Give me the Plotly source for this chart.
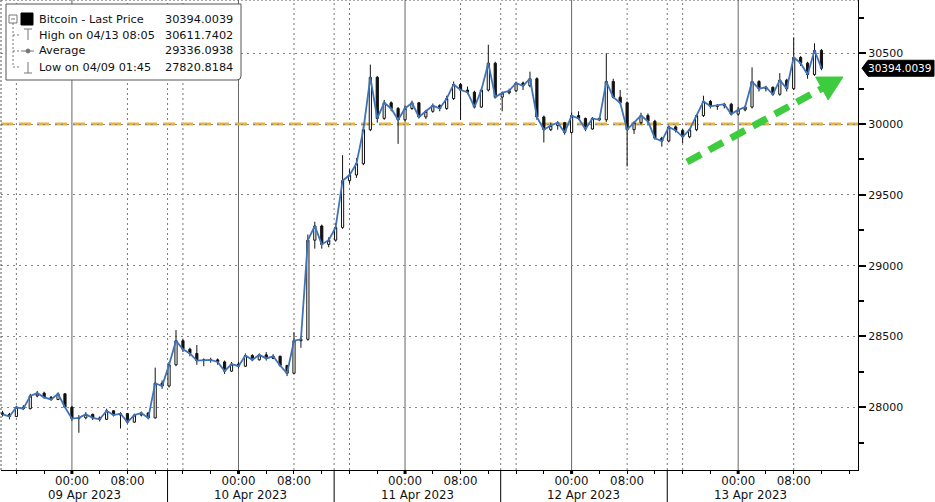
import math
import plotly.graph_objects as go
import pandas as pd

# ---------------- data (hourly candles) ----------------
open_ = [
    27960, 27950, 27935, 28000, 27990, 28080, 28100, 28070, 28055, 28095,
    28000, 27920, 27925, 27950, 27925, 27915, 27975, 27945, 27955, 27895, 27945, 27960,
    27925, 28170, 28150, 28300, 28470, 28410, 28380, 28330, 28335, 28335, 28320, 28255,
    28305, 28290, 28365, 28335, 28370, 28345, 28360, 28295, 28240, 28470, 28480, 29180,
    29280, 29150, 29180, 29270, 29600, 29640, 29720, 29960, 30330, 30040, 30150, 30110,
    30030, 30110, 30150, 30050, 30090, 30130, 30110, 30180, 30280, 30240, 30225, 30120,
    30240, 30430, 30190, 30220, 30235, 30290, 30270, 30320, 30050, 29960, 29990, 30010,
    29940, 30060, 30040, 29965, 30040, 30030, 30300, 30190, 30150, 29960, 30010, 30060,
    30020, 29900, 29880, 29980, 29955, 29910, 29960, 30060, 30160, 30125, 30130, 30140,
    30070, 30100, 30120, 30300, 30250, 30260, 30210, 30310, 30250, 30470, 30430, 30350, 30520,
]
high = [
    27975, 27960, 28010, 28015, 28095, 28115, 28110, 28080, 28105, 28100,
    28010, 27945, 27965, 27955, 27935, 27990, 27980, 27965, 27960, 27955, 27970, 27965,
    28280, 28190, 28320, 28545, 28480, 28420, 28440, 28345, 28350, 28345, 28330, 28320,
    28320, 28380, 28375, 28380, 28390, 28375, 28365, 28300, 28530, 28500, 29220, 29310,
    29290, 29200, 29300, 29780, 29680, 29760, 30000, 30420, 30340, 30170, 30160, 30120,
    30130, 30165, 30155, 30100, 30145, 30140, 30200, 30300, 30290, 30265, 30235, 30250,
    30560, 30440, 30230, 30250, 30300, 30300, 30370, 30330, 30060, 30010, 30020, 30015,
    30080, 30090, 30045, 30050, 30050, 30500, 30320, 30240, 30160, 30020, 30080, 30075,
    30030, 29910, 29990, 29990, 29965, 29970, 30070, 30200, 30170, 30140, 30150, 30150,
    30120, 30130, 30400, 30310, 30270, 30265, 30360, 30320, 30612, 30480, 30440, 30570, 30530,
]
low = [
    27935, 27915, 27930, 27980, 27985, 28070, 28060, 28045, 28050, 27995,
    27905, 27820, 27915, 27910, 27900, 27910, 27935, 27850, 27885, 27890, 27935, 27915,
    27920, 28130, 28140, 28290, 28390, 28360, 28300, 28290, 28315, 28300, 28235, 28250,
    28275, 28285, 28325, 28330, 28330, 28340, 28285, 28220, 28235, 28420, 28470, 29120,
    29120, 29130, 29170, 29260, 29580, 29620, 29710, 29950, 30010, 30030, 30090, 29860,
    30020, 30100, 30040, 30035, 30080, 30090, 30100, 30170, 30030, 30210, 30110, 30115,
    30230, 30180, 30090, 30210, 30225, 30240, 30260, 30030, 29870, 29950, 29960, 29925,
    29935, 30030, 29950, 29960, 30020, 30015, 30180, 30140, 29700, 29930, 29995, 29990,
    29890, 29840, 29870, 29940, 29865, 29900, 29950, 30050, 30110, 30100, 30110, 30060,
    30060, 30090, 30110, 30230, 30230, 30200, 30200, 30230, 30240, 30410, 30320, 30340, 30380,
]
close = [
    27950, 27935, 28000, 27990, 28080, 28100, 28070, 28055, 28095, 28000,
    27920, 27925, 27950, 27925, 27915, 27975, 27945, 27955, 27895, 27945, 27960, 27925,
    28170, 28150, 28300, 28470, 28410, 28380, 28330, 28335, 28335, 28320, 28255, 28305,
    28290, 28365, 28335, 28370, 28345, 28360, 28295, 28240, 28470, 28480, 29180, 29280,
    29150, 29180, 29270, 29600, 29640, 29720, 29960, 30330, 30040, 30150, 30110, 30030,
    30110, 30150, 30050, 30090, 30130, 30110, 30180, 30280, 30240, 30225, 30120, 30240,
    30430, 30190, 30220, 30235, 30290, 30270, 30320, 30050, 29960, 29990, 30010, 29940,
    30060, 30040, 29965, 30040, 30030, 30300, 30190, 30150, 29960, 30010, 30060, 30020,
    29900, 29880, 29980, 29955, 29910, 29960, 30060, 30160, 30125, 30130, 30140, 30070,
    30100, 30120, 30300, 30250, 30260, 30210, 30310, 30250, 30470, 30430, 30350, 30520, 30394.0039,
]
times = pd.date_range("2023-04-08 14:00", periods=len(close), freq="h")

days = ["2023-04-09", "2023-04-10", "2023-04-11", "2023-04-12", "2023-04-13"]
day_labels = ["09 Apr 2023", "10 Apr 2023", "11 Apr 2023", "12 Apr 2023", "13 Apr 2023"]
y_ticks = [28000, 28500, 29000, 29500, 30000, 30500]
y_ticktext = ["28000", "28500", "29000", "29500", "30000", "30500"]
level = 30000

legend_names = ["Bitcoin - Last Price", "High on 04/13 08:05", "Average", "Low on 04/09 01:45"]
legend_values = ["30394.0039", "30611.7402", "29336.0938", "27820.8184"]

# ---------------- layout geometry ----------------
W, H = 935, 502
ML, MR, MT, MB = 1, 77, 0, 32
PW = W - ML - MR
PH = H - MT - MB
Y0, Y1 = 27557, 30876
X0, X1 = "2023-04-08 13:47", "2023-04-13 17:16"
FONT = "DejaVu Sans"


def px(x):
    return (x - ML) / PW


def py(y):
    return 1 - (y - MT) / PH


fig = go.Figure()

fig.add_trace(go.Scatter(
    x=times, y=close, mode="lines",
    line=dict(color="#3f73b8", width=1.8), hoverinfo="skip", showlegend=False,
))
fig.add_trace(go.Candlestick(
    x=times, open=open_, high=high, low=low, close=close,
    increasing=dict(line=dict(color="#111111", width=1), fillcolor="white"),
    decreasing=dict(line=dict(color="#111111", width=1), fillcolor="#111111"),
    whiskerwidth=0, showlegend=False,
))

shapes = []
dot = dict(color="#777777", width=1, dash="2px,3px")

# vertical grid lines
vt_dotted = ["2023-04-08 16:00"]
for d in days:
    vt_dotted += [d + " 08:00"]
    if d != days[-1]:
        vt_dotted += [d + " 13:47", d + " 16:00"]
for t in vt_dotted:
    shapes.append(dict(type="line", xref="x", yref="paper", x0=t, x1=t, y0=0, y1=1,
                       line=dot, layer="below"))
for d in days:
    shapes.append(dict(type="line", xref="x", yref="paper", x0=d, x1=d, y0=0, y1=1,
                       line=dict(color="#666666", width=1), layer="below"))
    shapes.append(dict(type="line", xref="x", yref="paper", x0=d, x1=d, y0=0, y1=-4 / PH,
                       line=dict(color="#000000", width=3)))
for d in days[:-1]:
    t = d + " 13:47"
    shapes.append(dict(type="line", xref="x", yref="paper", x0=t, x1=t, y0=0, y1=-MB / PH,
                       line=dict(color="#000000", width=1)))

# left and top dotted border
shapes.append(dict(type="line", xref="paper", yref="paper", x0=0, x1=0, y0=0, y1=1,
                   line=dict(color="#555555", width=1, dash="2px,2px")))
shapes.append(dict(type="line", xref="paper", yref="paper", x0=0, x1=1, y0=1, y1=1,
                   line=dict(color="#555555", width=1, dash="2px,2px")))

# 30000 level line
shapes.append(dict(type="line", xref="paper", yref="y", x0=0, x1=1, y0=level, y1=level,
                   line=dict(color="#e6b43c", width=3, dash="12px,6px"), layer="below"))

# green dashed arrow
ax0, ay0, tipx, tipy = 687, 162, 843, 77
dx, dy = tipx - ax0, tipy - ay0
L = math.hypot(dx, dy)
ux, uy = dx / L, dy / L
nx, ny = -uy, ux
hl, hw = 24, 13
bx, by = tipx - hl * ux, tipy - hl * uy
shapes.append(dict(type="line", xref="paper", yref="paper",
                   x0=px(ax0), y0=py(ay0), x1=px(bx + 2 * ux), y1=py(by + 2 * uy),
                   line=dict(color="#3dcc3d", width=7, dash="16px,9px")))
p1 = (bx + hw * nx, by + hw * ny)
p2 = (bx - hw * nx, by - hw * ny)
shapes.append(dict(type="path", xref="paper", yref="paper",
                   path=f"M {px(tipx)},{py(tipy)} L {px(p1[0])},{py(p1[1])} L {px(p2[0])},{py(p2[1])} Z",
                   fillcolor="#3dcc3d", line=dict(color="#3dcc3d", width=1)))

# legend box
lx0, lx1, ly0, ly1 = 6, 241, 4, 80
r = 4
shapes.append(dict(type="path", xref="paper", yref="paper",
                   path=(f"M {px(lx0)},{py(ly0)} L {px(lx1)},{py(ly0)} L {px(lx1)},{py(ly1 - r)} "
                         f"Q {px(lx1)},{py(ly1)} {px(lx1 - r)},{py(ly1)} L {px(lx0)},{py(ly1)} Z"),
                   fillcolor="white", line=dict(color="#555555", width=1)))
rows = [19, 35, 51, 67]
grey = "#777777"
shapes.append(dict(type="line", xref="paper", yref="paper", x0=px(13), x1=px(13), y0=py(23), y1=py(67),
                   line=dict(color=grey, width=1, dash="2px,2px")))
for ry in rows[1:]:
    shapes.append(dict(type="line", xref="paper", yref="paper", x0=px(13), x1=px(20), y0=py(ry), y1=py(ry),
                       line=dict(color=grey, width=1, dash="2px,2px")))
shapes.append(dict(type="rect", xref="paper", yref="paper", x0=px(9), x1=px(17), y0=py(15), y1=py(23),
                   fillcolor="white", line=dict(color=grey, width=1)))
shapes.append(dict(type="line", xref="paper", yref="paper", x0=px(11), x1=px(15), y0=py(19), y1=py(19),
                   line=dict(color=grey, width=1)))
shapes.append(dict(type="rect", xref="paper", yref="paper", x0=px(21), x1=px(33), y0=py(13), y1=py(25),
                   fillcolor="#000000", line=dict(color="#000000", width=1)))
shapes.append(dict(type="line", xref="paper", yref="paper", x0=px(24), x1=px(32), y0=py(29), y1=py(29),
                   line=dict(color=grey, width=1)))
shapes.append(dict(type="line", xref="paper", yref="paper", x0=px(28), x1=px(28), y0=py(29), y1=py(40),
                   line=dict(color=grey, width=1)))
shapes.append(dict(type="line", xref="paper", yref="paper", x0=px(21), x1=px(34), y0=py(51), y1=py(51),
                   line=dict(color=grey, width=1)))
shapes.append(dict(type="circle", xref="paper", yref="paper", x0=px(26), x1=px(30), y0=py(49), y1=py(53),
                   fillcolor=grey, line=dict(color=grey, width=1)))
shapes.append(dict(type="line", xref="paper", yref="paper", x0=px(28), x1=px(28), y0=py(62), y1=py(73),
                   line=dict(color=grey, width=1)))
shapes.append(dict(type="line", xref="paper", yref="paper", x0=px(24), x1=px(32), y0=py(73), y1=py(73),
                   line=dict(color=grey, width=1)))

# last price tag
yl = 1 - (close[-1] - Y0) / (Y1 - Y0)
tag_y = MT + yl * PH
shapes.append(dict(type="path", xref="paper", yref="paper",
                   path=(f"M {px(862)},{py(tag_y)} L {px(868)},{py(tag_y - 8)} L {px(934)},{py(tag_y - 8)} "
                         f"L {px(934)},{py(tag_y + 8)} L {px(868)},{py(tag_y + 8)} Z"),
                   fillcolor="#000000", line=dict(color="#000000", width=1)))

annotations = []
for nm, val, ry in zip(legend_names, legend_values, rows):
    annotations.append(dict(xref="paper", yref="paper", x=px(37), y=py(ry), text=nm, showarrow=False,
                            xanchor="left", yanchor="middle", font=dict(family=FONT, size=11.3, color="#111111")))
    annotations.append(dict(xref="paper", yref="paper", x=px(235), y=py(ry), text=val, showarrow=False,
                            xanchor="right", yanchor="middle", font=dict(family=FONT, size=11.3, color="#111111")))
annotations.append(dict(xref="paper", yref="paper", x=px(900), y=py(tag_y), text=legend_values[0],
                        showarrow=False, xanchor="center", yanchor="middle",
                        font=dict(family=FONT, size=10.5, color="white")))
for d, lab in zip(days, day_labels):
    annotations.append(dict(xref="x", yref="paper", x=d + " 01:47", y=py(495), text=lab, showarrow=False,
                            xanchor="center", yanchor="middle", font=dict(family=FONT, size=11.8, color="#111111")))

tickvals, ticktext = [], []
for d in days:
    tickvals += [d + " 00:00", d + " 08:00"]
    ticktext += ["00:00", "08:00"]

fig.update_layout(
    width=W, height=H,
    margin=dict(l=ML, r=MR, t=MT, b=MB),
    paper_bgcolor="white", plot_bgcolor="white",
    showlegend=False, boxgap=0.55,
    shapes=shapes, annotations=annotations,
    font=dict(family=FONT, size=11, color="#111111"),
    xaxis=dict(
        type="date", range=[X0, X1], rangeslider=dict(visible=False),
        tickvals=tickvals, ticktext=ticktext, ticks="", showgrid=False,
        showline=True, linecolor="#000000", linewidth=1, zeroline=False,
        tickfont=dict(family=FONT, size=11.8, color="#111111"),
        minor=dict(dtick=4 * 3600 * 1000, tick0="2023-04-09", ticks="outside", ticklen=3,
                   tickcolor="#000000", showgrid=False),
    ),
    yaxis=dict(
        side="right", range=[Y0, Y1], tickvals=y_ticks, ticktext=y_ticktext,
        ticks="outside", ticklen=7, tickwidth=2,
        tickcolor="#000000", showline=True, linecolor="#000000", linewidth=1, zeroline=False,
        showgrid=True, gridcolor="#888888", griddash="2px,4px", gridwidth=1,
        tickfont=dict(family=FONT, size=11, color="#111111"),
        minor=dict(dtick=250, tick0=27750, ticks="outside", ticklen=5, tickcolor="#000000", showgrid=False),
    ),
)

fig.write_html("out.html", config={"displayModeBar": False},
               post_script="document.body.style.margin='0';")
